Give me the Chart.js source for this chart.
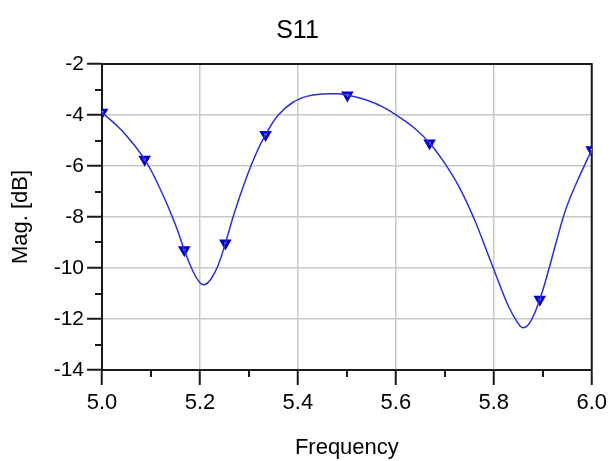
<!DOCTYPE html>
<html>
<head>
<meta charset="utf-8">
<title>S11</title>
<script src="https://cdn.jsdelivr.net/npm/chart.js@4/dist/chart.umd.min.js"></script>
<style>
  html, body { margin: 0; padding: 0; background: #fff; }
  #wrap { width: 612px; height: 461px; }
</style>
</head>
<body>
<div id="wrap"><canvas id="s11Chart" width="612" height="461"></canvas></div>
<script>
// curve: frequency (GHz) / magnitude (dB)
const freqs = [5.000, 5.040, 5.087, 5.120, 5.150, 5.168, 5.185, 5.200, 5.210, 5.222,
               5.237, 5.252, 5.270, 5.295, 5.315, 5.334, 5.360, 5.390, 5.420, 5.450,
               5.480, 5.501, 5.540, 5.575, 5.610, 5.640, 5.669, 5.700, 5.730, 5.760,
               5.785, 5.810, 5.830, 5.848, 5.860, 5.875, 5.894, 5.911, 5.928, 5.948,
               5.970, 6.000];
const magDb = [-3.90, -4.60, -5.74, -6.95, -8.30, -9.29, -10.10, -10.58, -10.65, -10.45,
               -9.90, -9.03, -7.85, -6.45, -5.50, -4.77, -4.00, -3.50, -3.26, -3.18,
               -3.17, -3.22, -3.41, -3.70, -4.12, -4.55, -5.10, -5.90, -6.85, -8.08,
               -9.30, -10.55, -11.50, -12.12, -12.34, -12.10, -11.23, -10.15, -8.95, -7.65,
               -6.62, -5.37];

// triangle markers
const markerFreqs = [5.000, 5.087, 5.168, 5.252, 5.334, 5.501, 5.669, 5.894, 6.000];
const markerDb = [-3.90, -5.74, -9.29, -9.03, -4.77, -3.22, -5.10, -11.23, -5.37];

// ticks
const xMajorTicks = [5.0, 5.2, 5.4, 5.6, 5.8, 6.0];
const xMinorTicks = [5.1, 5.3, 5.5, 5.7, 5.9];
const yMajorTicks = [-14, -12, -10, -8, -6, -4, -2];
const yMinorTicks = [-13, -11, -9, -7, -5, -3];

const FONT = 'Arial, "Liberation Sans", sans-serif';
const GRID = '#c8c8c8';
const AXIS = '#1a1a1a';

const isMajor = (list, v) => list.some(m => Math.abs(m - v) < 1e-6);

const curve = freqs.map((f, i) => ({ x: f, y: magDb[i] }));
const markers = markerFreqs.map((f, i) => ({ x: f, y: markerDb[i] }));

// frame on top/right + short minor tick marks
const framePlugin = {
    id: 'frameAndMinorTicks',
    beforeDatasetsDraw(chart) {
        const { ctx, chartArea: a, scales } = chart;
        ctx.save();
        ctx.strokeStyle = AXIS;
        ctx.lineWidth = 2;
        ctx.beginPath();
        ctx.moveTo(a.left, a.top);
        ctx.lineTo(a.right, a.top);
        ctx.lineTo(a.right, a.bottom);
        ctx.stroke();

        ctx.beginPath();
        scales.x.ticks.forEach((t, i) => {
            if (isMajor(xMinorTicks, t.value)) {
                const px = Math.round(scales.x.getPixelForTick(i));
                ctx.moveTo(px, a.bottom);
                ctx.lineTo(px, a.bottom + 7);
            }
        });
        scales.y.ticks.forEach((t, i) => {
            if (isMajor(yMinorTicks, t.value)) {
                const py = Math.round(scales.y.getPixelForTick(i));
                ctx.moveTo(a.left - 7, py);
                ctx.lineTo(a.left, py);
            }
        });
        ctx.stroke();
        ctx.restore();
    }
};

new Chart(document.getElementById('s11Chart').getContext('2d'), {
    type: 'line',
    data: {
        datasets: [{
            label: 'S11',
            data: curve,
            borderColor: '#2e2ed8',
            borderWidth: 1.5,
            pointRadius: 0,
            tension: 0.4,
            fill: false
        }, {
            label: 'markers',
            data: markers,
            showLine: false,
            pointStyle: 'triangle',
            rotation: 180,
            pointRadius: 4.5,
            borderWidth: 2.8,
            borderColor: '#0000c8',
            backgroundColor: '#ffffff'
        }]
    },
    options: {
        responsive: false,
        animation: false,
        layout: { padding: { left: 0, right: 17, top: 0, bottom: 0 } },
        plugins: {
            legend: { display: false },
            tooltip: { enabled: false },
            title: {
                display: true,
                text: 'S11',
                color: '#000',
                font: { family: FONT, size: 25, weight: 'normal' },
                padding: { top: 16, bottom: 18 }
            }
        },
        scales: {
            x: {
                type: 'linear',
                min: 5.0,
                max: 6.0,
                afterBuildTicks: s => { s.ticks = xMajorTicks.concat(xMinorTicks).sort((a, b) => a - b).map(v => ({ value: v })); },
                afterFit: s => { s.height = 91; },
                ticks: {
                    autoSkip: false,
                    maxRotation: 0,
                    color: '#000',
                    padding: 5,
                    font: { family: FONT, size: 22 },
                    callback: v => isMajor(xMajorTicks, v) ? v.toFixed(1) : ''
                },
                grid: {
                    color: c => c.tick && isMajor(xMajorTicks, c.tick.value) ? GRID : 'transparent',
                    lineWidth: 1.5,
                    tickColor: c => c.tick && isMajor(xMajorTicks, c.tick.value) ? AXIS : 'transparent',
                    tickLength: 15,
                    tickWidth: 2
                },
                border: { color: AXIS, width: 2 },
                title: {
                    display: true,
                    text: 'Frequency',
                    color: '#000',
                    font: { family: FONT, size: 22 },
                    padding: { top: 0, bottom: 0 }
                }
            },
            y: {
                min: -14,
                max: -2,
                afterBuildTicks: s => { s.ticks = yMajorTicks.concat(yMinorTicks).sort((a, b) => a - b).map(v => ({ value: v })); },
                afterFit: s => { s.width = 102; },
                ticks: {
                    autoSkip: false,
                    color: '#000',
                    padding: 3,
                    font: { family: FONT, size: 21 },
                    callback: v => isMajor(yMajorTicks, v) ? String(v) : ''
                },
                grid: {
                    color: c => c.tick && isMajor(yMajorTicks, c.tick.value) ? GRID : 'transparent',
                    lineWidth: 1.5,
                    tickColor: c => c.tick && isMajor(yMajorTicks, c.tick.value) ? AXIS : 'transparent',
                    tickLength: 15,
                    tickWidth: 2
                },
                border: { color: AXIS, width: 2 },
                title: {
                    display: true,
                    text: 'Mag. [dB]',
                    color: '#000',
                    font: { family: FONT, size: 22 },
                    padding: { top: 8, bottom: 0 }
                }
            }
        }
    },
    plugins: [framePlugin]
});
</script>
</body>
</html>
